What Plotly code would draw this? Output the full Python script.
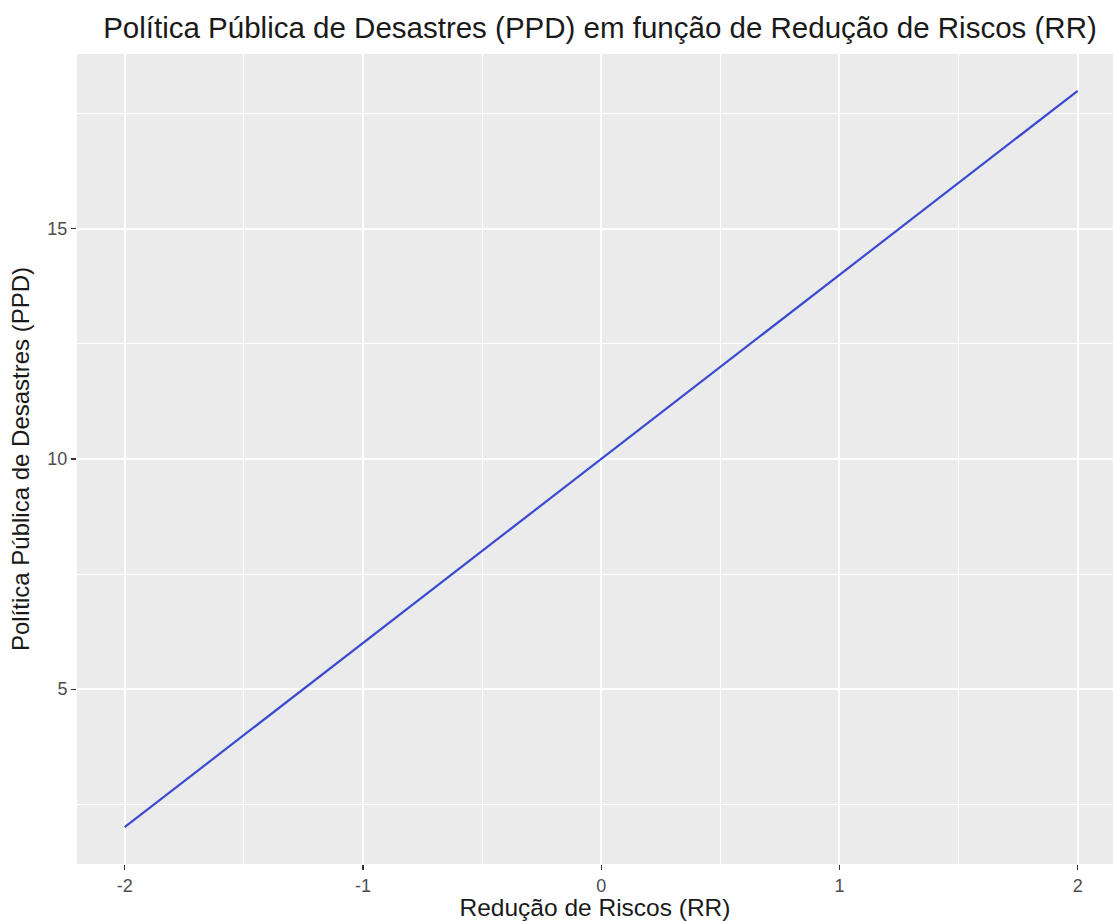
import plotly.graph_objects as go

# Data
rr = [-2, -1, 0, 1, 2]
ppd = [2, 6, 10, 14, 18]
x_ticks = [-2, -1, 0, 1, 2]
x_ticklabels = ["-2", "-1", "0", "1", "2"]
y_ticks = [5, 10, 15]
y_ticklabels = ["5", "10", "15"]

title_text = "Política Pública de Desastres (PPD) em função de Redução de Riscos (RR)"
x_title = "Redução de Riscos (RR)"
y_title = "Política Pública de Desastres (PPD)"

FONT = "Liberation Sans, Arial, Helvetica, sans-serif"

fig = go.Figure()
fig.add_trace(go.Scatter(
    x=rr, y=ppd, mode="lines",
    line=dict(color="#3B4BD0", width=2.2),
    showlegend=False, hoverinfo="skip",
))

W, H = 1113, 921
ML, MR, MT, MB = 77, 0, 54, 921 - 864

fig.update_layout(
    width=W, height=H,
    margin=dict(l=ML, r=MR, t=MT, b=MB, pad=0),
    paper_bgcolor="white",
    plot_bgcolor="#EBEBEB",
    font=dict(family=FONT, color="#1A1A1A"),
    hovermode=False,
    title=dict(
        text=title_text,
        font=dict(size=29.5, color="#1A1A1A", family=FONT),
        x=600 / W, xref="container", xanchor="center",
        y=1 - 28 / H, yref="container", yanchor="middle",
    ),
    xaxis=dict(
        range=[-2.2, 2 + (1113 - 1077.7) / 238.3],
        tickmode="array", tickvals=x_ticks, ticktext=x_ticklabels,
        showgrid=True, gridcolor="white", gridwidth=2,
        minor=dict(dtick=0.5, tick0=0, showgrid=True, gridcolor="white", gridwidth=1, ticklen=0),
        zeroline=False, showline=False,
        ticks="outside", ticklen=5, tickwidth=1.2, tickcolor="#333333",
        tickfont=dict(size=18, color="#4D4D4D", family=FONT),
        title=dict(text=x_title, font=dict(size=24.5, color="#1A1A1A", family=FONT), standoff=4),
        automargin=False,
        fixedrange=True,
    ),
    yaxis=dict(
        range=[1.2, 18.8],
        tickmode="array", tickvals=y_ticks, ticktext=y_ticklabels,
        showgrid=True, gridcolor="white", gridwidth=2,
        minor=dict(dtick=2.5, tick0=0, showgrid=True, gridcolor="white", gridwidth=1, ticklen=0),
        zeroline=False, showline=False,
        ticks="outside", ticklen=5, tickwidth=1.2, tickcolor="#333333",
        tickfont=dict(size=18, color="#4D4D4D", family=FONT),
        title=dict(text=y_title, font=dict(size=24, color="#1A1A1A", family=FONT), standoff=10),
        automargin=False,
        fixedrange=True,
    ),
)

fig.write_html(
    "out.html",
    config={"displayModeBar": False, "staticPlot": True},
    post_script="document.body.style.margin='0px';document.body.style.overflow='hidden';",
)
